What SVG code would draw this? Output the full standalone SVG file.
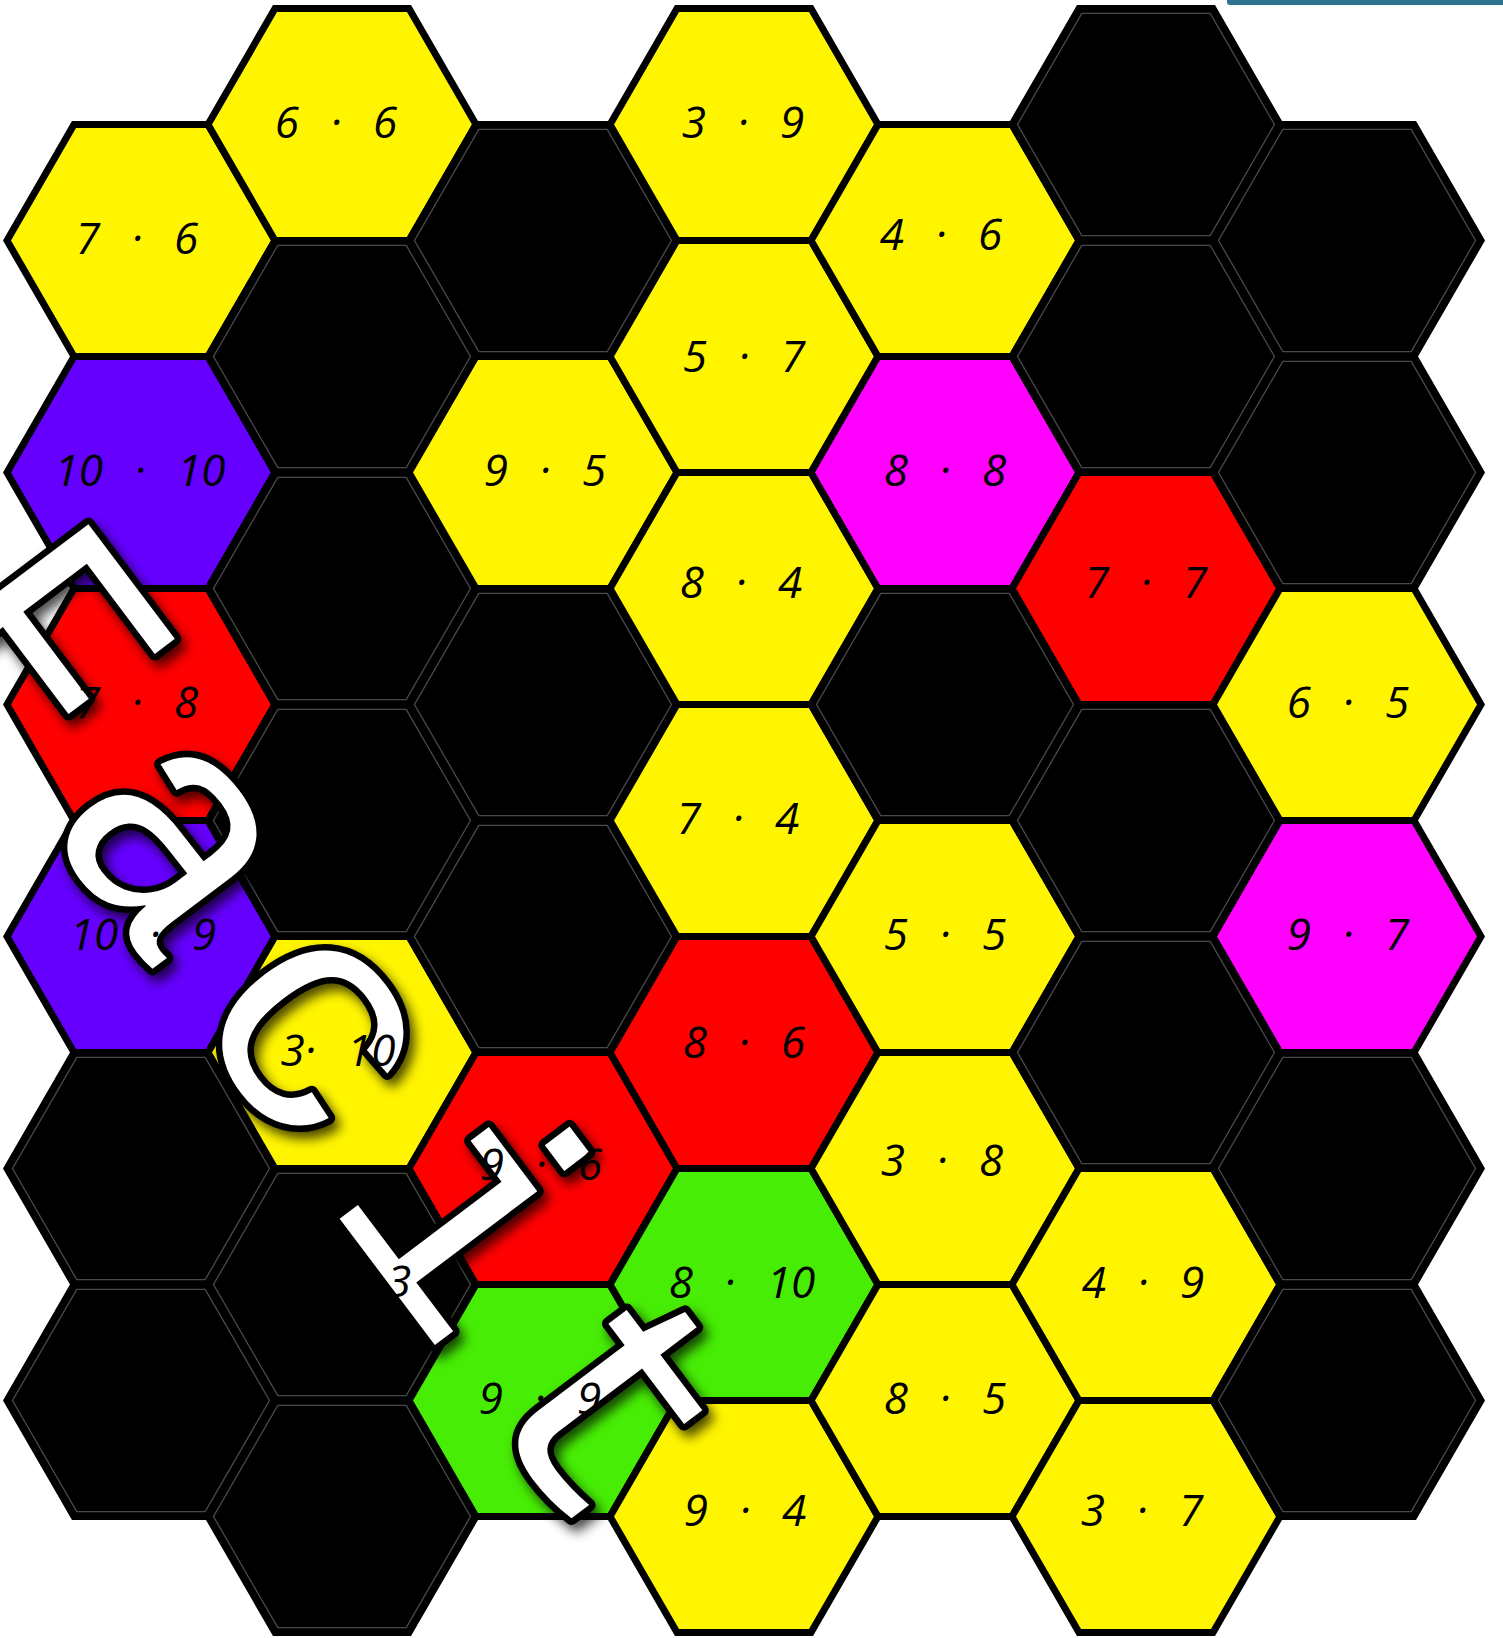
<svg xmlns="http://www.w3.org/2000/svg" xmlns:xlink="http://www.w3.org/1999/xlink" width="1503" height="1638" viewBox="0 0 1503 1638">
<style>
.h{stroke:#000;stroke-width:7;stroke-linejoin:miter}
.y{fill:#fff500}.p{fill:#6500ff}.r{fill:#ff0000}.m{fill:#ff00ff}.g{fill:#47ed04}.k{fill:#000}
.in{fill:none;stroke:#4a4a4a;stroke-width:1.3}
.lb{font-family:"Open Sans","DejaVu Sans",sans-serif;font-style:italic;font-size:44px;fill:#000;text-anchor:middle;word-spacing:20px}
.big{font-family:"Liberation Mono",monospace;font-size:330px;letter-spacing:40px;fill:#fff;stroke:#000;stroke-width:13;stroke-linejoin:round;paint-order:stroke fill}
</style>
<defs>
<polygon id="hx" points="134,0 67,116 -67,116 -134,0 -67,-116 67,-116"/>
<polygon id="hi" points="128.5,0 64.2,111.2 -64.2,111.2 -128.5,0 -64.2,-111.2 64.2,-111.2"/>
<filter id="sh" x="-20%" y="-20%" width="140%" height="140%">
<feDropShadow dx="5" dy="7" stdDeviation="6" flood-color="#000" flood-opacity="0.7"/>
</filter>
</defs>
<rect x="0" y="0" width="1503" height="1638" fill="#fff"/>
<rect x="1227" y="-4" width="290" height="9" rx="3" fill="#2d7391"/>
<g id="hexes">
<g id="h0-0"><use href="#hx" x="141" y="240.5" class="h y"/></g>
<g id="h0-1"><use href="#hx" x="141" y="472.5" class="h p"/></g>
<g id="h0-2"><use href="#hx" x="141" y="704.5" class="h r"/></g>
<g id="h0-3"><use href="#hx" x="141" y="936.5" class="h p"/></g>
<g id="h0-4"><use href="#hx" x="141" y="1168.5" class="h k"/><use href="#hi" x="141" y="1168.5" class="in"/></g>
<g id="h0-5"><use href="#hx" x="141" y="1400.5" class="h k"/><use href="#hi" x="141" y="1400.5" class="in"/></g>

<g id="h1-0"><use href="#hx" x="342" y="124.5" class="h y"/></g>
<g id="h1-1"><use href="#hx" x="342" y="356.5" class="h k"/><use href="#hi" x="342" y="356.5" class="in"/></g>
<g id="h1-2"><use href="#hx" x="342" y="588.5" class="h k"/><use href="#hi" x="342" y="588.5" class="in"/></g>
<g id="h1-3"><use href="#hx" x="342" y="820.5" class="h k"/><use href="#hi" x="342" y="820.5" class="in"/></g>
<g id="h1-4"><use href="#hx" x="342" y="1052.5" class="h y"/></g>
<g id="h1-5"><use href="#hx" x="342" y="1284.5" class="h k"/><use href="#hi" x="342" y="1284.5" class="in"/></g>
<g id="h1-6"><use href="#hx" x="342" y="1516.5" class="h k"/><use href="#hi" x="342" y="1516.5" class="in"/></g>

<g id="h2-0"><use href="#hx" x="543" y="240.5" class="h k"/><use href="#hi" x="543" y="240.5" class="in"/></g>
<g id="h2-1"><use href="#hx" x="543" y="472.5" class="h y"/></g>
<g id="h2-2"><use href="#hx" x="543" y="704.5" class="h k"/><use href="#hi" x="543" y="704.5" class="in"/></g>
<g id="h2-3"><use href="#hx" x="543" y="936.5" class="h k"/><use href="#hi" x="543" y="936.5" class="in"/></g>
<g id="h2-4"><use href="#hx" x="543" y="1168.5" class="h r"/></g>
<g id="h2-5"><use href="#hx" x="543" y="1400.5" class="h g"/></g>

<g id="h3-0"><use href="#hx" x="744" y="124.5" class="h y"/></g>
<g id="h3-1"><use href="#hx" x="744" y="356.5" class="h y"/></g>
<g id="h3-2"><use href="#hx" x="744" y="588.5" class="h y"/></g>
<g id="h3-3"><use href="#hx" x="744" y="820.5" class="h y"/></g>
<g id="h3-4"><use href="#hx" x="744" y="1052.5" class="h r"/></g>
<g id="h3-5"><use href="#hx" x="744" y="1284.5" class="h g"/></g>
<g id="h3-6"><use href="#hx" x="744" y="1516.5" class="h y"/></g>

<g id="h4-0"><use href="#hx" x="945" y="240.5" class="h y"/></g>
<g id="h4-1"><use href="#hx" x="945" y="472.5" class="h m"/></g>
<g id="h4-2"><use href="#hx" x="945" y="704.5" class="h k"/><use href="#hi" x="945" y="704.5" class="in"/></g>
<g id="h4-3"><use href="#hx" x="945" y="936.5" class="h y"/></g>
<g id="h4-4"><use href="#hx" x="945" y="1168.5" class="h y"/></g>
<g id="h4-5"><use href="#hx" x="945" y="1400.5" class="h y"/></g>

<g id="h5-0"><use href="#hx" x="1146" y="124.5" class="h k"/><use href="#hi" x="1146" y="124.5" class="in"/></g>
<g id="h5-1"><use href="#hx" x="1146" y="356.5" class="h k"/><use href="#hi" x="1146" y="356.5" class="in"/></g>
<g id="h5-2"><use href="#hx" x="1146" y="588.5" class="h r"/></g>
<g id="h5-3"><use href="#hx" x="1146" y="820.5" class="h k"/><use href="#hi" x="1146" y="820.5" class="in"/></g>
<g id="h5-4"><use href="#hx" x="1146" y="1052.5" class="h k"/><use href="#hi" x="1146" y="1052.5" class="in"/></g>
<g id="h5-5"><use href="#hx" x="1146" y="1284.5" class="h y"/></g>
<g id="h5-6"><use href="#hx" x="1146" y="1516.5" class="h y"/></g>

<g id="h6-0"><use href="#hx" x="1347" y="240.5" class="h k"/><use href="#hi" x="1347" y="240.5" class="in"/></g>
<g id="h6-1"><use href="#hx" x="1347" y="472.5" class="h k"/><use href="#hi" x="1347" y="472.5" class="in"/></g>
<g id="h6-2"><use href="#hx" x="1347" y="704.5" class="h y"/></g>
<g id="h6-3"><use href="#hx" x="1347" y="936.5" class="h m"/></g>
<g id="h6-4"><use href="#hx" x="1347" y="1168.5" class="h k"/><use href="#hi" x="1347" y="1168.5" class="in"/></g>
<g id="h6-5"><use href="#hx" x="1347" y="1400.5" class="h k"/><use href="#hi" x="1347" y="1400.5" class="in"/></g>
</g>
<g id="connectors"/>
<g id="title" filter="url(#sh)">
<text class="big" transform="translate(-104,630) rotate(53)">Facit</text>
</g>
<g id="labels" class="lb">
<text x="137" y="254">7 · 6</text>
<text x="140" y="486">10 · 10</text>
<text x="137" y="718">7 · 8</text>
<text x="143" y="950">10 · 9</text>
<text x="336" y="138">6 · 6</text>
<text x="338" y="1066">3· 10</text>
<text x="399" y="1297">3</text>
<text x="545" y="486">9 · 5</text>
<text x="541" y="1180">9 · 6</text>
<text x="540" y="1414">9 · 9</text>
<text x="743" y="138">3 · 9</text>
<text x="744" y="372">5 · 7</text>
<text x="741" y="598">8 · 4</text>
<text x="738" y="834">7 · 4</text>
<text x="744" y="1058">8 · 6</text>
<text x="742" y="1298">8 · 10</text>
<text x="745" y="1526">9 · 4</text>
<text x="941" y="250">4 · 6</text>
<text x="945" y="486">8 · 8</text>
<text x="945" y="950">5 · 5</text>
<text x="942" y="1176">3 · 8</text>
<text x="945" y="1414">8 · 5</text>
<text x="1146" y="598">7 · 7</text>
<text x="1143" y="1298">4 · 9</text>
<text x="1142" y="1526">3 · 7</text>
<text x="1348" y="718">6 · 5</text>
<text x="1348" y="950">9 · 7</text>
</g>
</svg>
